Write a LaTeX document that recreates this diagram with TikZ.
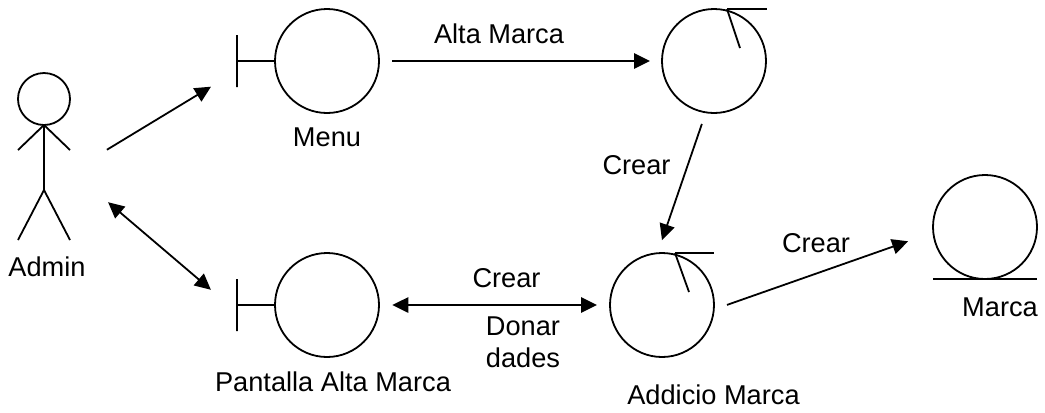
\documentclass[tikz,border=0pt]{standalone}
\usepackage{fontspec}
\setmainfont{Liberation Sans}
\usetikzlibrary{arrows.meta}
\tikzset{
>={Stealth[length=12pt,width=11.5pt,inset=0pt]},
cercle/.style={circle,draw,minimum size=78pt,inner sep=0pt,outer sep=0pt},
capnode/.style={circle,draw,minimum size=39pt,inner sep=0pt,outer sep=0pt},
barra/.style={draw,minimum width=0pt,minimum height=39pt,inner sep=0pt,outer sep=0pt},
actor/.style={minimum width=39pt,minimum height=125.25pt,inner sep=0pt,outer sep=0pt},
etiqueta/.style={inner sep=0pt,align=center,font=\fontsize{20.4}{24}\selectfont},
fletxa/.style={->},
doble/.style={<->}}

\begin{document}
\begin{tikzpicture}[x=0.75pt,y=-0.75pt,line width=1.35pt]

\useasboundingbox (0,0) rectangle (1045,412);

\node[actor] (admin) at (44,156.5) {};
\node[capnode] (cap) at (44,99) {};
\draw (cap.south) -- (18,150);
\draw (cap.south) -- (70,150);
\draw (cap.south) -- (44,190) coordinate (maluc);
\draw (maluc) -- (18,240);
\draw (maluc) -- (70,240);
\node[etiqueta] (admin label) at (47,267) {Admin};

\node[cercle] (menu) at (327,61) {};
\node[barra] (menu barra) at (237,61) {};
\draw (menu barra) -- (menu);
\node[etiqueta] (menu label) at (327,137) {Menu};

\node[cercle] (pantalla) at (327,305) {};
\node[barra] (pantalla barra) at (237,305) {};
\draw (pantalla barra) -- (pantalla);
\node[etiqueta] (pantalla label) at (333,382) {Pantalla Alta Marca};

\node[cercle] (alta) at (714,61) {};
\draw (727,9) coordinate (alta punta) -- (767,9);
\draw (alta punta) -- (740,48);

\node[cercle] (addicio) at (662,305) {};
\draw (675,253) coordinate (addicio punta) -- (714,253);
\draw (addicio punta) -- (689,292);
\node[etiqueta] (addicio label) at (713.5,395) {Addicio Marca};

\node[cercle] (marca) at (985,227) {};
\draw (933,279) coordinate (marca terra) -- (1037,279);
\node[etiqueta] (marca label) at (1000,307) {Marca};

\path[fletxa] (admin.-31) edge[shorten <=32.4pt,shorten >=57.9pt] (menu.164);
\path[doble] (admin.-27) edge[shorten <=37.5pt,shorten >=25.7pt] ([yshift=-5.25pt]pantalla barra.center);
\path[fletxa] (menu) edge[shorten <=9.75pt,shorten >=9pt] (alta);
\path[fletxa] (alta.261) edge[shorten <=9.2pt,shorten >=10.4pt] (addicio.95);
\path[doble] (pantalla) edge[shorten <=10pt,shorten >=9.75pt] (addicio);
\path[fletxa] (addicio.-5) edge[shorten <=10.5pt,shorten >=20pt] (marca.186);

\node[etiqueta] (alta label) at (499,34) {Alta Marca};
\node[etiqueta] (crear label a) at (636.5,165) {Crear};
\node[etiqueta] (crear label b) at (506.5,278) {Crear};
\node[etiqueta] (donar label) at (523,342) {Donar\\dades};
\node[etiqueta] (crear label c) at (816,243) {Crear};

\end{tikzpicture}
\end{document}
